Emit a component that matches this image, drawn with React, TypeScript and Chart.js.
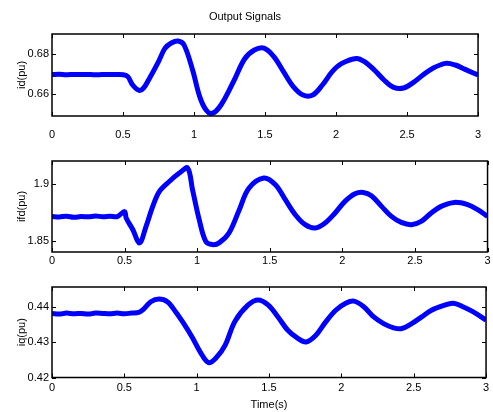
import React, { useEffect, useRef } from "react";
import { Chart, registerables } from "chart.js";

Chart.register(...registerables);

// ---- data ----
const timeTicks = [0, 0.5, 1, 1.5, 2, 2.5, 3];

const idTime = [0, 0.05, 0.1, 0.15, 0.2, 0.25, 0.3, 0.35, 0.4, 0.45, 0.5, 0.534, 0.568, 0.614, 0.645, 0.68, 0.75, 0.795, 0.84, 0.888, 0.93, 0.99, 1.04, 1.085, 1.128, 1.19, 1.28, 1.356, 1.425, 1.493, 1.562, 1.63, 1.699, 1.767, 1.836, 1.904, 1.973, 2.041, 2.144, 2.2, 2.27, 2.338, 2.406, 2.475, 2.543, 2.612, 2.68, 2.772, 2.84, 2.909, 3];
const idValues = [0.6697, 0.6699, 0.6696, 0.6698, 0.6697, 0.6698, 0.6696, 0.6697, 0.6698, 0.6697, 0.6696, 0.6687, 0.6645, 0.6618, 0.663, 0.667, 0.6762, 0.6828, 0.6855, 0.6865, 0.6845, 0.672, 0.6587, 0.652, 0.6503, 0.6545, 0.6665, 0.6775, 0.682, 0.6829, 0.6787, 0.6712, 0.6637, 0.6595, 0.6595, 0.6645, 0.6712, 0.6753, 0.6778, 0.6762, 0.672, 0.667, 0.6633, 0.663, 0.6657, 0.6695, 0.6728, 0.6753, 0.6745, 0.6723, 0.6695];
const idTicks = [0.66, 0.68];

const ifdTime = [0, 0.05, 0.1, 0.15, 0.2, 0.25, 0.3, 0.35, 0.4, 0.45, 0.5, 0.511, 0.557, 0.603, 0.648, 0.694, 0.74, 0.808, 0.877, 0.934, 0.968, 1.014, 1.059, 1.105, 1.151, 1.219, 1.288, 1.356, 1.459, 1.539, 1.607, 1.676, 1.744, 1.813, 1.881, 1.95, 2.018, 2.087, 2.144, 2.2, 2.27, 2.338, 2.406, 2.475, 2.543, 2.612, 2.68, 2.772, 2.863, 2.932, 3];
const ifdValues = [1.8712, 1.8708, 1.8715, 1.8705, 1.8712, 1.8709, 1.8716, 1.871, 1.8714, 1.8712, 1.8755, 1.8699, 1.8596, 1.848, 1.8626, 1.8801, 1.8933, 1.902, 1.9094, 1.9138, 1.8947, 1.8684, 1.8494, 1.8465, 1.848, 1.8567, 1.8765, 1.896, 1.905, 1.8991, 1.886, 1.8728, 1.864, 1.8611, 1.8655, 1.8743, 1.8845, 1.8912, 1.8924, 1.8895, 1.8801, 1.8713, 1.866, 1.864, 1.8669, 1.8743, 1.8801, 1.8836, 1.8816, 1.8772, 1.8713];
const ifdTicks = [1.85, 1.9];

const iqTime = [0, 0.05, 0.1, 0.15, 0.2, 0.25, 0.3, 0.35, 0.4, 0.45, 0.5, 0.55, 0.6, 0.625, 0.683, 0.74, 0.797, 0.854, 0.911, 0.968, 1.025, 1.082, 1.139, 1.196, 1.265, 1.356, 1.425, 1.493, 1.562, 1.63, 1.699, 1.756, 1.824, 1.892, 1.961, 2.03, 2.087, 2.155, 2.224, 2.292, 2.361, 2.418, 2.486, 2.555, 2.623, 2.703, 2.772, 2.84, 2.909, 3];
const iqValues = [0.4382, 0.438, 0.4383, 0.4381, 0.4382, 0.438, 0.4383, 0.4382, 0.4381, 0.4383, 0.4381, 0.4383, 0.4385, 0.4391, 0.4415, 0.4423, 0.4415, 0.4387, 0.4353, 0.4315, 0.4272, 0.4242, 0.4258, 0.4291, 0.436, 0.4406, 0.442, 0.4406, 0.4372, 0.4334, 0.4311, 0.4301, 0.432, 0.4358, 0.4391, 0.4411, 0.4417, 0.4401, 0.4372, 0.4353, 0.4341, 0.4339, 0.4353, 0.4372, 0.4391, 0.4404, 0.4411, 0.4401, 0.4387, 0.4363];
const iqTicks = [0.42, 0.43, 0.44];

const FONT_FAMILY = "'Liberation Sans Narrow', 'Arial Narrow', 'Liberation Sans', Arial, sans-serif";

// inward MATLAB-style ticks on all four sides + box
const framePlugin = {
  id: "matlabFrame",
  afterDatasetsDraw(chart: any) {
    const { ctx, chartArea: a, scales } = chart;
    const L = 4;
    ctx.save();
    ctx.strokeStyle = "#000";
    ctx.lineWidth = 1;
    ctx.beginPath();
    scales.x.ticks.forEach((t: any) => {
      const px = Math.round(scales.x.getPixelForValue(t.value)) + 0.5;
      ctx.moveTo(px, a.bottom);
      ctx.lineTo(px, a.bottom - L);
      ctx.moveTo(px, a.top);
      ctx.lineTo(px, a.top + L);
    });
    scales.y.ticks.forEach((t: any) => {
      const py = Math.round(scales.y.getPixelForValue(t.value)) + 0.5;
      ctx.moveTo(a.left, py);
      ctx.lineTo(a.left + L, py);
      ctx.moveTo(a.right, py);
      ctx.lineTo(a.right - L, py);
    });
    ctx.stroke();
    ctx.lineWidth = 1.5;
    ctx.strokeRect(a.left, a.top, a.right - a.left, a.bottom - a.top);
    ctx.restore();
  },
};

type PanelSpec = {
  times: number[];
  values: number[];
  yTicks: number[];
  yMin: number;
  yMax: number;
  yLabel: string;
  top: number;
  height: number;
  padTop: number;
  xAxisHeight: number;
  xLabelPad: number;
  title?: string;
  xTitle?: string;
};

function Panel({ spec }: { spec: PanelSpec }) {
  const ref = useRef<HTMLCanvasElement | null>(null);
  useEffect(() => {
    if (!ref.current) return;
    const font = { family: FONT_FAMILY, size: 11, weight: "normal" as const };
    const chart = new Chart(ref.current, {
      type: "line",
      data: {
        datasets: [
          {
            data: spec.times.map((t, i) => ({ x: t, y: spec.values[i] })),
            borderColor: "#0000ff",
            borderWidth: 5,
            pointRadius: 0,
            tension: 0.35,
            fill: false,
          },
        ],
      },
      options: {
        animation: false,
        responsive: false,
        devicePixelRatio: 1,
        layout: { padding: { left: 0, right: 3, top: spec.title ? 0 : spec.padTop, bottom: 0 } },
        plugins: {
          legend: { display: false },
          tooltip: { enabled: false },
          title: spec.title
            ? {
                display: true,
                text: spec.title,
                color: "#000",
                font,
                padding: { top: 10, bottom: 10.8 },
              }
            : { display: false },
        },
        scales: {
          x: {
            type: "linear",
            min: 0,
            max: 3,
            afterBuildTicks: (s: any) => {
              s.ticks = timeTicks.map((v) => ({ value: v }));
            },
            afterFit: (s: any) => {
              s.height = spec.xAxisHeight;
            },
            ticks: {
              color: "#000",
              font,
              padding: spec.xLabelPad,
              maxRotation: 0,
              autoSkip: false,
              callback: (v: any) => String(v),
            },
            grid: { display: false, drawTicks: false },
            border: { display: false },
            title: spec.xTitle
              ? { display: true, text: spec.xTitle, color: "#000", font, padding: { top: 0, bottom: 0.4 } }
              : { display: false },
          },
          y: {
            type: "linear",
            min: spec.yMin,
            max: spec.yMax,
            afterBuildTicks: (s: any) => {
              s.ticks = spec.yTicks.map((v) => ({ value: v }));
            },
            afterFit: (s: any) => {
              s.width = 52;
            },
            ticks: {
              color: "#000",
              font,
              padding: 3,
              autoSkip: false,
              callback: (v: any) => String(v),
            },
            grid: { display: false, drawTicks: false },
            border: { display: false },
            title: {
              display: true,
              text: spec.yLabel,
              color: "#000",
              font,
              padding: { top: 15.4, bottom: 0 },
            },
          },
        },
      },
      plugins: [framePlugin],
    });
    return () => chart.destroy();
  }, [spec]);
  return (
    <canvas
      ref={ref}
      width={493}
      height={spec.height}
      style={{ position: "absolute", left: 0, top: spec.top, width: 493, height: spec.height, display: "block" }}
    />
  );
}

const panels: PanelSpec[] = [
  {
    times: idTime,
    values: idValues,
    yTicks: idTicks,
    yMin: 0.649,
    yMax: 0.69,
    yLabel: "id(pu)",
    top: 0,
    height: 148,
    padTop: 34,
    xAxisHeight: 32,
    xLabelPad: 11.9,
    title: "Output Signals",
  },
  {
    times: ifdTime,
    values: ifdValues,
    yTicks: ifdTicks,
    yMin: 1.84,
    yMax: 1.92,
    yLabel: "ifd(pu)",
    top: 148,
    height: 122,
    padTop: 13,
    xAxisHeight: 18,
    xLabelPad: 2.4,
  },
  {
    times: iqTime,
    values: iqValues,
    yTicks: iqTicks,
    yMin: 0.42,
    yMax: 0.4457,
    yLabel: "iq(pu)",
    top: 270,
    height: 142,
    padTop: 17,
    xAxisHeight: 34.5,
    xLabelPad: 3.9,
    xTitle: "Time(s)",
  },
];

export default function App() {
  useEffect(() => {
    document.body.style.margin = "0";
    document.body.style.background = "#fff";
  }, []);
  return (
    <div style={{ position: "relative", width: 493, height: 412, background: "#fff", overflow: "hidden" }}>
      {panels.map((p, i) => (
        <Panel key={i} spec={p} />
      ))}
    </div>
  );
}
